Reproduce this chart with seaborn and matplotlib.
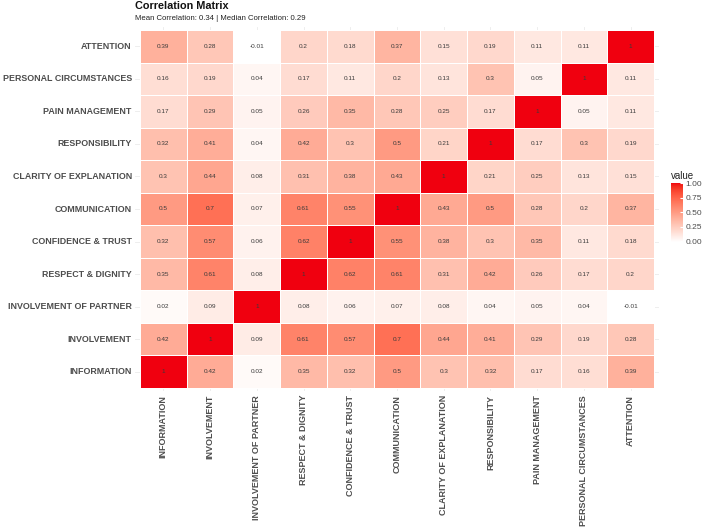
import numpy as np
import pandas as pd
import matplotlib
matplotlib.use("Agg")
import matplotlib.pyplot as plt
import seaborn as sns
from matplotlib.colors import ListedColormap

# ---------------- data ----------------
variables = ["INFORMATION", "INVOLVEMENT", "INVOLVEMENT OF PARTNER", "RESPECT & DIGNITY",
             "CONFIDENCE & TRUST", "COMMUNICATION", "CLARITY OF EXPLANATION", "RESPONSIBILITY",
             "PAIN MANAGEMENT", "PERSONAL CIRCUMSTANCES", "ATTENTION"]

information            = [1.00, 0.42, 0.02, 0.35, 0.32, 0.50, 0.30, 0.32, 0.17, 0.16, 0.39]
involvement            = [0.42, 1.00, 0.09, 0.61, 0.57, 0.70, 0.44, 0.41, 0.29, 0.19, 0.28]
involvement_of_partner = [0.02, 0.09, 1.00, 0.08, 0.06, 0.07, 0.08, 0.04, 0.05, 0.04, -0.01]
respect_dignity        = [0.35, 0.61, 0.08, 1.00, 0.62, 0.61, 0.31, 0.42, 0.26, 0.17, 0.20]
confidence_trust       = [0.32, 0.57, 0.06, 0.62, 1.00, 0.55, 0.38, 0.30, 0.35, 0.11, 0.18]
communication          = [0.50, 0.70, 0.07, 0.61, 0.55, 1.00, 0.43, 0.50, 0.28, 0.20, 0.37]
clarity_of_explanation = [0.30, 0.44, 0.08, 0.31, 0.38, 0.43, 1.00, 0.21, 0.25, 0.13, 0.15]
responsibility         = [0.32, 0.41, 0.04, 0.42, 0.30, 0.50, 0.21, 1.00, 0.17, 0.30, 0.19]
pain_management        = [0.17, 0.29, 0.05, 0.26, 0.35, 0.28, 0.25, 0.17, 1.00, 0.05, 0.11]
personal_circumstances = [0.16, 0.19, 0.04, 0.17, 0.11, 0.20, 0.13, 0.30, 0.05, 1.00, 0.11]
attention              = [0.39, 0.28, -0.01, 0.20, 0.18, 0.37, 0.15, 0.19, 0.11, 0.11, 1.00]

title = "Correlation Matrix"
subtitle = "Mean Correlation: 0.34 | Median Correlation: 0.29"
legend_ticks = [0.00, 0.25, 0.50, 0.75, 1.00]

rows = [information, involvement, involvement_of_partner, respect_dignity, confidence_trust,
        communication, clarity_of_explanation, responsibility, pain_management,
        personal_circumstances, attention]
df = pd.DataFrame(rows, index=variables, columns=variables)
df = df.iloc[::-1]  # top row = ATTENTION

def fmt(v):
    s = f"{v:.2f}".rstrip("0").rstrip(".")
    return s
annot = np.vectorize(fmt)(df.values)

# ---------------- Lab gradient white -> red (like ggplot) ----------------
def srgb2lab(rgb):
    c = np.asarray(rgb, float) / 255.0
    c = np.where(c <= 0.04045, c / 12.92, ((c + 0.055) / 1.055) ** 2.4)
    M = np.array([[0.4124, 0.3576, 0.1805], [0.2126, 0.7152, 0.0722], [0.0193, 0.1192, 0.9505]])
    xyz = M @ c
    wn = np.array([0.95047, 1.0, 1.08883])
    t = xyz / wn
    d = 6 / 29
    f = np.where(t > d ** 3, np.cbrt(t), t / (3 * d * d) + 4 / 29)
    return np.array([116 * f[1] - 16, 500 * (f[0] - f[1]), 200 * (f[1] - f[2])])

def lab2srgb(lab):
    L, a, b = lab
    fy = (L + 16) / 116
    fx = fy + a / 500
    fz = fy - b / 200
    d = 6 / 29
    def finv(f):
        return f ** 3 if f > d else 3 * d * d * (f - 4 / 29)
    wn = np.array([0.95047, 1.0, 1.08883])
    xyz = np.array([finv(fx), finv(fy), finv(fz)]) * wn
    Minv = np.array([[3.2406, -1.5372, -0.4986], [-0.9689, 1.8758, 0.0415], [0.0557, -0.2040, 1.0570]])
    c = Minv @ xyz
    c = np.clip(c, 0, 1)
    c = np.where(c <= 0.0031308, 12.92 * c, 1.055 * c ** (1 / 2.4) - 0.055)
    return np.clip(c, 0, 1)

lo = srgb2lab([255, 255, 255])
hi = srgb2lab([240, 0, 15])
cols = [lab2srgb(lo + (hi - lo) * t) for t in np.linspace(0, 1, 256)]
cmap = ListedColormap(cols)

# ---------------- plot ----------------
plt.rcParams["font.family"] = ["Liberation Sans", "DejaVu Sans"]
W, H = 702, 527
fig = plt.figure(figsize=(W / 100, H / 100), dpi=100)
fig.patch.set_facecolor("white")

pl, pr, pt, pb = 135.3, 658.7, 26.7, 391.3
ax = fig.add_axes([pl / W, 1 - pb / H, (pr - pl) / W, (pb - pt) / H])
cax = fig.add_axes([671 / W, 1 - 242 / H, 12 / W, 59 / H])

sns.heatmap(df, cmap=cmap, vmin=-0.01, vmax=1.0, annot=annot, fmt="",
            annot_kws={"size": 4.6, "color": "#3a3a3a"},
            linewidths=0.7, linecolor="white", ax=ax, cbar_ax=cax,
            cbar_kws={"ticks": legend_ticks})

n = len(variables)
ax.set_xlim(-0.1, n + 0.1)
ax.set_ylim(n + 0.1, -0.1)
ax.set_xlabel("")
ax.set_ylabel("")
ax.set_xticks(np.arange(n) + 0.5)
ax.set_yticks(np.arange(n) + 0.5)
ax.set_xticklabels(df.columns, rotation=90, fontsize=6.5, fontweight="bold", color="#4d4d4d")
ax.set_yticklabels(df.index, rotation=0, fontsize=6.4, fontweight="bold", color="#4d4d4d")
ax.tick_params(axis="both", length=0, pad=2.5)
ax.grid(True, color="#ebebeb", linewidth=0.6)
ax.set_axisbelow(True)
for s in ax.spines.values():
    s.set_visible(False)

cb = ax.collections[0].colorbar
cb.outline.set_visible(False)
cb.ax.set_yticklabels([f"{t:.2f}" for t in legend_ticks])
cax.tick_params(length=2.5, color="white", direction="in", labelsize=6, labelcolor="#4d4d4d", pad=2)

fig.text(671 / W, 1 - 176 / H, "value", fontsize=7, color="#222222", va="center", ha="left")
fig.text(135 / W, 1 - 6 / H, title, fontsize=7.8, fontweight="bold", color="#111111", va="center", ha="left")
fig.text(135 / W, 1 - 18.5 / H, subtitle, fontsize=5.6, color="#222222", va="center", ha="left")

fig.savefig("out.png", dpi=100, facecolor="white")
